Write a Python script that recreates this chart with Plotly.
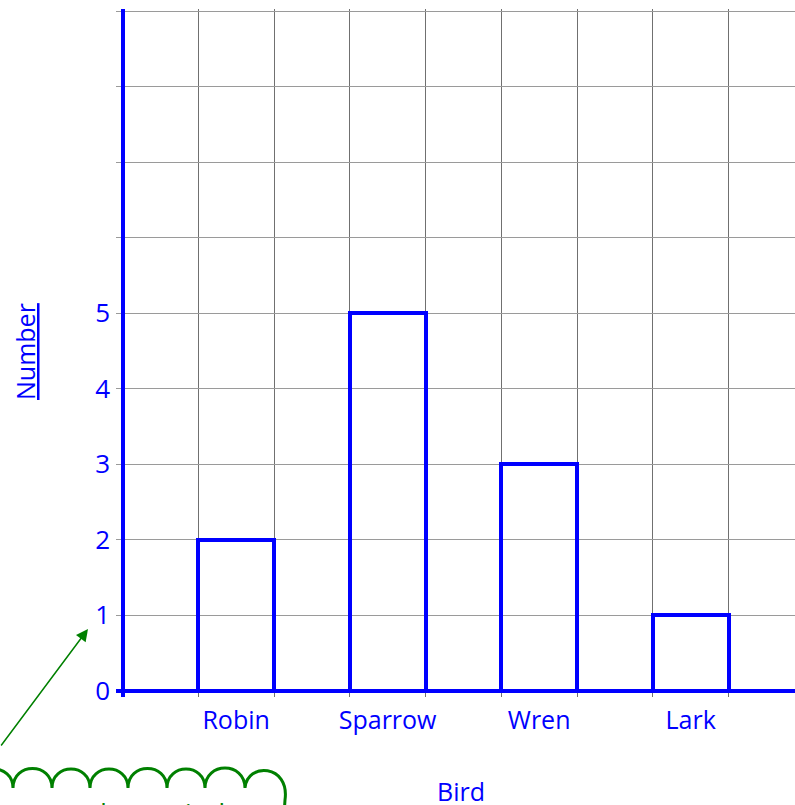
import plotly.graph_objects as go

# ---- data ----
birds = ["Robin", "Sparrow", "Wren", "Lark"]
counts = [2, 5, 3, 1]
y_tick_vals = [0, 1, 2, 3, 4, 5]
y_tick_text = ["0", "1", "2", "3", "4", "5"]
x_title = "Bird"
y_title = "Number"
note_text = "the vertical"

# ---- layout geometry (pixels) ----
W, H = 795, 805
plot_left, plot_right = 116, 795
plot_top, plot_bottom = 9, 697
x0_px, ux = 122.5, 75.75          # pixel of x=0 and pixels per unit
y0_px, uy = 690.5, 75.5           # pixel of y=0 and pixels per unit

x_range = [(plot_left - x0_px) / ux, (plot_right - x0_px) / ux]
y_range = [(y0_px - plot_bottom) / uy, (y0_px - plot_top) / uy]

plot_w = plot_right - plot_left
plot_h = plot_bottom - plot_top


def px(xp):
    return (xp - plot_left) / plot_w


def py(yp):
    return (plot_bottom - yp) / plot_h


BLUE = "#0000ff"
GREEN = "#008000"
FONT = "Open Sans"

bar_x = [2 * i + 1.5 for i in range(len(birds))]

fig = go.Figure()
fig.add_trace(go.Bar(
    x=bar_x, y=counts, width=1,
    marker=dict(color="rgba(0,0,0,0)", line=dict(color=BLUE, width=4)),
    showlegend=False, hoverinfo="skip",
))

fig.update_layout(
    width=W, height=H,
    margin=dict(l=plot_left, r=W - plot_right, t=plot_top, b=H - plot_bottom, pad=0),
    paper_bgcolor="white", plot_bgcolor="white",
    font=dict(family=FONT, color=BLUE, size=26),
    xaxis=dict(
        range=x_range, tickmode="array", tickvals=bar_x, ticktext=birds,
        showgrid=False, zeroline=True, zerolinecolor=BLUE, zerolinewidth=4,
        showline=False, ticks="", tickfont=dict(size=25, color=BLUE),
        ticklabelstandoff=6,
        minor=dict(tickmode="linear", tick0=0, dtick=1, showgrid=True,
                   gridcolor="#707070", gridwidth=1, ticks=""),
        fixedrange=True,
    ),
    yaxis=dict(
        range=y_range, tickmode="array", tickvals=y_tick_vals, ticktext=y_tick_text,
        showgrid=True, gridcolor="#9a9a9a", gridwidth=1,
        zeroline=True, zerolinecolor=BLUE, zerolinewidth=4,
        showline=False, ticks="", tickfont=dict(size=26, color=BLUE),
        ticklabelstandoff=5,
        minor=dict(tickmode="linear", tick0=0, dtick=1, showgrid=True,
                   gridcolor="#9a9a9a", gridwidth=1, ticks=""),
        fixedrange=True,
    ),
    bargap=0,
)

# axis titles
fig.add_annotation(text=x_title, xref="paper", yref="paper",
                   x=px(461), y=py(791), xanchor="center", yanchor="middle",
                   showarrow=False, font=dict(size=25, color=BLUE, family=FONT))
fig.add_annotation(text="<u>" + y_title + "</u>", xref="paper", yref="paper",
                   x=px(25), y=py(352), xanchor="center", yanchor="middle",
                   showarrow=False, textangle=-90,
                   font=dict(size=25, color=BLUE, family=FONT))

# green arrow
fig.add_annotation(x=px(88), y=py(629), xref="paper", yref="paper",
                   ax=-96, ay=118, text="", showarrow=True,
                   arrowhead=2, arrowsize=1.6, arrowwidth=1.5, arrowcolor=GREEN)

# cloud outline (scalloped)
dips = [-25, 13, 52, 90, 128, 167, 205, 245]
base = 788
path = "M {} {}".format(px(dips[0]), py(base))
for a, b in zip(dips[:-1], dips[1:]):
    r = (b - a) / 2
    path += " C {} {} {} {} {} {}".format(px(a), py(base - 1.33 * r), px(b), py(base - 1.33 * r), px(b), py(base))
# final large end bump
path += " C {} {} {} {} {} {}".format(px(247), py(762), px(290), py(764), px(285), py(800))
path += " L {} {}".format(px(283), py(830))
fig.add_shape(type="path", path=path, xref="paper", yref="paper",
              line=dict(color=GREEN, width=3))

fig.add_annotation(text=note_text, xref="paper", yref="paper",
                   x=px(158), y=py(792), xanchor="center", yanchor="top",
                   showarrow=False, font=dict(size=26, color=GREEN, family=FONT))

fig.write_html("out.html", config={"displayModeBar": False},
               post_script="document.body.style.margin='0';")
